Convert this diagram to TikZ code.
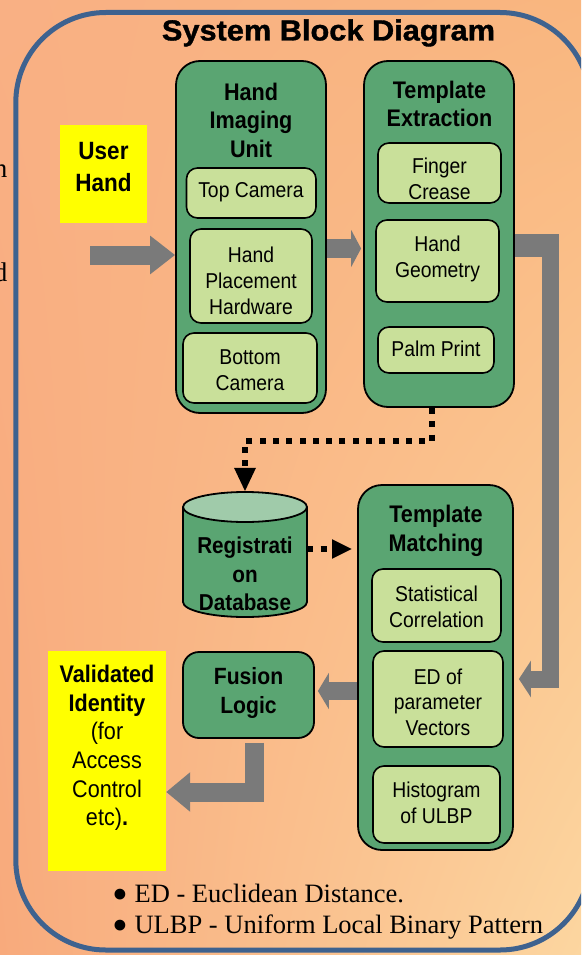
\documentclass[tikz,border=0pt]{standalone}
\usepackage{fontspec}
\setmainfont{Liberation Sans}[FakeStretch=0.9]
\newfontfamily\titlefont{Liberation Sans}[FakeStretch=1.06,FakeBold=1.2]
\newfontfamily\seriffont{Liberation Serif}
\usetikzlibrary{arrows.meta,calc,shadings}
\definecolor{boxgreen}{RGB}{90,165,114}
\definecolor{itemgreen}{RGB}{201,224,154}
\definecolor{cyltop}{RGB}{160,203,170}
\definecolor{arrowgray}{RGB}{122,122,122}
\definecolor{frameblue}{RGB}{62,98,143}
\definecolor{hiyellow}{RGB}{255,255,0}
\definecolor{bgUL}{RGB}{249,176,132}
\definecolor{bgUR}{RGB}{249,182,127}
\definecolor{bgLL}{RGB}{248,170,124}
\definecolor{bgLR}{RGB}{252,214,160}
\newcommand\fItem{\fontsize{21.5}{26}\selectfont}
\newcommand\fHead{\bfseries\fontsize{24}{28.5}\selectfont}
\newcommand\fNote{\seriffont\fontsize{26.5}{31}\selectfont}
\newcommand\bigbullet{\smash{\raisebox{-0.3em}{\scalebox{1.7}{\textbullet}}}}
\tikzset{
  container/.style={draw=black, line width=1.8pt, fill=boxgreen, rounded corners=24pt, inner sep=0pt},
  itembox/.style={draw=black, line width=1.6pt, fill=itemgreen, rounded corners=11pt, inner sep=0pt},
  yellowbox/.style={fill=hiyellow, inner sep=0pt},
  itemtext/.style={align=center, font=\fItem, inner sep=0pt},
  headtext/.style={align=center, font=\fHead, inner sep=0pt},
  blockarrow/.style={color=arrowgray, line join=miter},
  dotline/.style={color=black, line width=6pt, dash pattern=on 6pt off 7.3pt},
  notetext/.style={font=\fNote, anchor=base west, inner sep=0pt},
}
\begin{document}
\begin{tikzpicture}[x=1pt,y=-1pt]
\useasboundingbox (0,0) rectangle (581,955);
\clip (0,0) rectangle (581,955);
\shade[upper left=bgUL, upper right=bgUR, lower left=bgLL, lower right=bgLR] (0,0) rectangle (581,955);

% fragments at left edge
\node[font=\seriffont\fontsize{27}{30}\selectfont, anchor=base east, inner sep=0pt] (fragn) at (7.5,177) {n};
\node[font=\seriffont\fontsize{27}{30}\selectfont, anchor=base east, inner sep=0pt] (fragd) at (7.5,281) {d};

% frame
\draw[frameblue, line width=5pt, rounded corners=90pt] (15.8,12.5) rectangle (590,950);

% title
\node[font=\titlefont\bfseries\fontsize{29}{34}\selectfont, inner sep=0pt] (title) at (328.5,33) {System Block Diagram};

% containers
\node[container, minimum width=150pt, minimum height=352pt] (hiu) at (251,237) {};
\node[container, minimum width=150pt, minimum height=346pt] (tx) at (439,234) {};
\node[container, minimum width=155pt, minimum height=365pt] (tm) at (435.5,667.5) {};
\node[container, rounded corners=16pt, minimum width=131pt, minimum height=86pt] (fl) at (248.5,695) {};
\node[yellowbox, minimum width=87pt, minimum height=98pt] (user) at (103.5,174) {};
\node[yellowbox, minimum width=118pt, minimum height=220pt] (vid) at (107,761) {};

% items
\node[itembox, minimum width=129.5pt, minimum height=50pt] (topcam) at (251.25,193) {};
\node[itembox, minimum width=122pt, minimum height=94pt] (hph) at (251,276) {};
\node[itembox, minimum width=134pt, minimum height=70pt] (botcam) at (250,368) {};
\node[itembox, minimum width=123pt, minimum height=60pt] (finger) at (439.5,173) {};
\node[itembox, minimum width=123pt, minimum height=82pt] (geom) at (437.5,261) {};
\node[itembox, minimum width=116pt, minimum height=46pt] (palm) at (436,350) {};
\node[itembox, minimum width=129pt, minimum height=73pt] (stat) at (436.5,605.5) {};
\node[itembox, minimum width=130pt, minimum height=96pt] (edv) at (438,699) {};
\node[itembox, minimum width=127pt, minimum height=77pt] (hist) at (436.5,804.5) {};

% database cylinder
\node[minimum width=124pt, minimum height=125pt, inner sep=0pt] (db) at (245,554.5) {};
\filldraw[fill=boxgreen, draw=black, line width=1.8pt] (245,602) ellipse [x radius=62, y radius=15];
\fill[boxgreen] (183,507) rectangle (307,602);
\draw[line width=1.8pt] (183,507) -- (183,602) (307,507) -- (307,602);
\filldraw[fill=cyltop, draw=black, line width=1.8pt] (245,507) ellipse [x radius=62, y radius=15];

% texts
\node[headtext] (hiuT) at (251,120) {Hand\\Imaging\\Unit};
\node[headtext] (txT) at (439.5,104) {Template\\Extraction};
\node[headtext] (tmT) at (436,531) {Template\\Matching};
\node[headtext, font=\bfseries\fontsize{23.5}{29}\selectfont] (flT) at (248.5,693) {Fusion\\Logic};
\node[headtext, font=\bfseries\fontsize{23}{28.5}\selectfont] (dbT) at (245,574) {Registrati\\on\\Database};
\node[headtext, font=\bfseries\fontsize{25}{32}\selectfont] (userT) at (103.5,167) {User\\Hand};
\node[align=center, inner sep=0pt, font=\fontsize{24}{28.6}\selectfont] (vidT) at (107,748)
  {\textbf{Validated}\\\textbf{Identity}\\(for\\Access\\Control\\etc)\textbf{.}};
\node[itemtext] (topcamT) at (251,192) {Top Camera};
\node[itemtext] (hphT) at (251,281) {Hand\\Placement\\Hardware};
\node[itemtext] (botcamT) at (250,370) {Bottom\\Camera};
\node[itemtext] (fingerT) at (439.5,179) {Finger\\Crease};
\node[itemtext] (geomT) at (437.5,259) {Hand\\Geometry};
\node[itemtext] (palmT) at (436,349) {Palm Print};
\node[itemtext] (statT) at (436.5,607) {Statistical\\Correlation};
\node[itemtext, font=\fontsize{21.5}{25.5}\selectfont] (edvT) at (438,702) {ED of\\parameter\\Vectors};
\node[itemtext] (histT) at (436.5,803) {Histogram\\of ULBP};

% notes
\node[notetext] (note1) at (112,902) {\bigbullet\ ED - Euclidean Distance.};
\node[notetext] (note2) at (112,933) {\bigbullet\ ULBP - Uniform Local Binary Pattern};

% block arrows
\coordinate (a1) at (90,255);
\draw[blockarrow, line width=19pt, -{Triangle[width=37pt,length=25pt]}] (a1) -- (hiu.west |- a1);
\coordinate (a2) at (0,248.5);
\draw[blockarrow, line width=19pt, -{Triangle[width=37pt,length=10pt]}, shorten >=2pt] (hiu.east |- a2) -- (tx.west |- a2);
\coordinate (a3a) at (550,245.5);
\coordinate (a3b) at (550,679);
\draw[blockarrow, line width=23pt] (tx.east |- a3a) -- ($(a3a)+(8.5,0)$);
\draw[blockarrow, line width=17pt, -{Triangle[width=36pt,length=12pt]}, shorten >=5pt] (tx.east |- a3a) -- (a3a) -- (a3b) -- (tm.east |- a3b);
\coordinate (a4) at (0,691);
\draw[blockarrow, line width=18pt, -{Triangle[width=36pt,length=11pt]}, shorten >=3pt] (tm.west |- a4) -- (fl.east |- a4);
\coordinate (a5) at (254.5,792);
\draw[blockarrow, line width=19pt, -{Triangle[width=38pt,length=24pt]}, shorten <=4pt] (fl.south -| a5) -- (a5) -- (vid.east |- a5);

% dotted connectors
\coordinate (d1a) at (432,441);
\coordinate (d1b) at (245,441);
\draw[dotline, -{Triangle[width=20pt,length=24pt]}] (tx.south -| d1a) -- (d1a) -- (d1b) -- (db.north -| d1b);
\coordinate (d2) at (0,549);
\draw[dotline, -{Triangle[width=18pt,length=20pt]}, shorten >=5pt] (db.east |- d2) -- (tm.west |- d2);
\end{tikzpicture}
\end{document}
